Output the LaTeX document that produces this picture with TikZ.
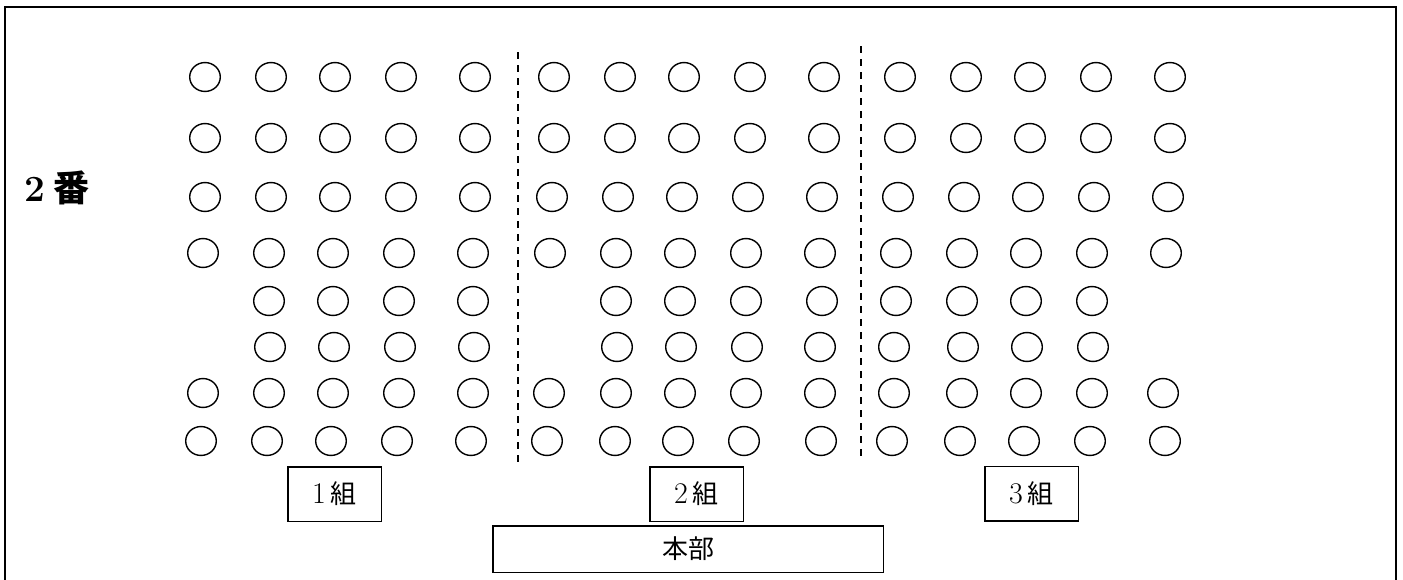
\documentclass[tikz,border=0pt]{standalone}
\usepackage{fontspec}
\newfontfamily\jpfont{Noto Sans CJK JP}
\usetikzlibrary{shapes.geometric}

\begin{document}
\begin{tikzpicture}[
    x=1pt, y=-1pt,
    seat/.style={ellipse, draw, line width=1.4pt, minimum width=30.6pt, minimum height=28.9pt, inner sep=0pt},
    classbox/.style={draw, line width=1.5pt, minimum width=93.5pt, minimum height=54.5pt, inner sep=0pt, font=\fontsize{30}{32}\selectfont},
    aisle/.style={line width=1.3pt, dash pattern=on 7pt off 6pt}
]
\useasboundingbox (0,0) rectangle (1403,579);
\draw[line width=2.2pt] (5,7) rectangle (1396,583);
\node[anchor=west, inner sep=0pt, font=\fontsize{37}{40}\selectfont\bfseries] (ban) at (24,188) {2\hspace{8pt}{\jpfont\fontsize{36}{40}\selectfont 番}};

% seats, row by row
\foreach \y/\xs [count=\r] in {
    77/{205,271,335,401,475,554,620,684,750,824,900,966,1030,1096,1170},
    138/{205,271,335,401,475,554,620,684,750,824,900,966,1030,1096,1170},
    197/{205,271,335,401,475,552,618,682,748,822,898,964,1028,1094,1168},
    253/{203,269,333,399,473,550,616,680,746,820,896,962,1026,1092,1166},
    301/{269,333,399,473,616,680,746,822,896,962,1026,1092},
    347/{270,334,400,474,617,681,747,820,894,963,1027,1093},
    393/{203,269,333,399,473,549,616,680,746,820,894,962,1026,1092,1163},
    441/{201,267,331,397,471,547,615,678,744,821,892,960,1024,1090,1165}}
  \foreach \x [count=\c] in \xs
    \node[seat] (s\r-\c) at (\x,\y) {};

% aisles between the classes
\coordinate (a1top) at (518,52);
\coordinate (a1bot) at (518,465);
\coordinate (a2top) at (861,46);
\coordinate (a2bot) at (861,459);
\draw[aisle] (a1top) -- (a1bot);
\draw[aisle] (a2top) -- (a2bot);

\node[classbox] (c1) at (334.5,494) {1\hspace{5pt}{\jpfont\fontsize{26}{30}\selectfont 組}};
\node[classbox] (c2) at (696.5,494) {2\hspace{5pt}{\jpfont\fontsize{26}{30}\selectfont 組}};
\node[classbox] (c3) at (1031.5,493.5) {3\hspace{5pt}{\jpfont\fontsize{26}{30}\selectfont 組}};
\node[classbox, minimum width=390.5pt, minimum height=46.5pt] (hq) at (688,549) {\jpfont\fontsize{26}{30}\selectfont 本部};
\end{tikzpicture}
\end{document}
